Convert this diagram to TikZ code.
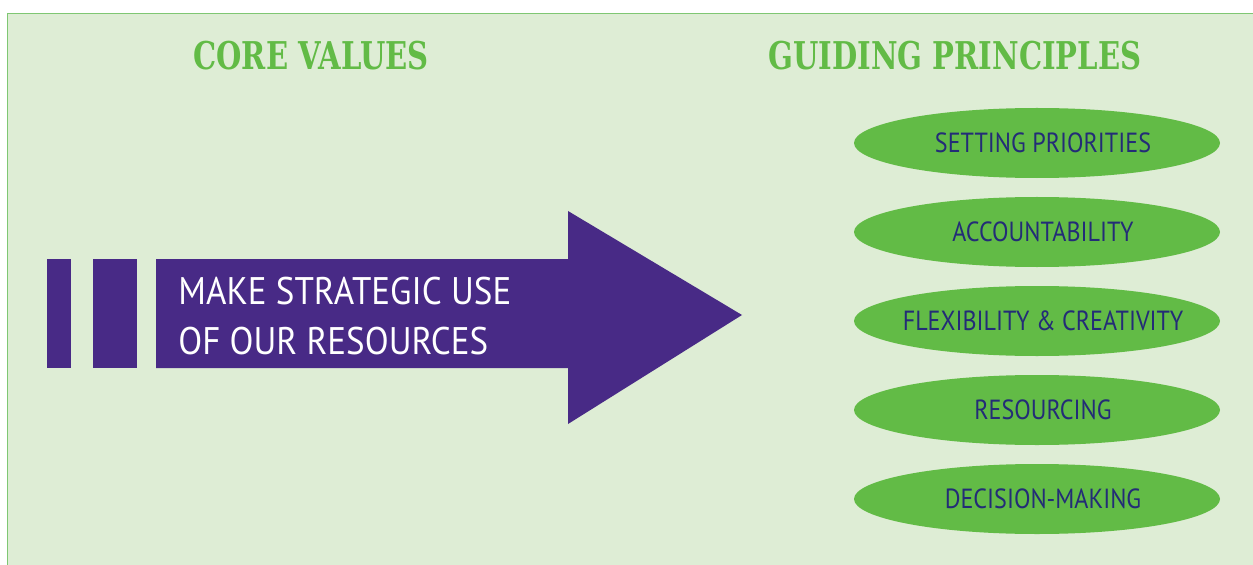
\documentclass[tikz,border=0pt]{standalone}
\usepackage{fontspec}
\setmainfont{PT Sans}
\newfontfamily\headfont[FakeStretch=0.76]{DejaVu Serif}
\newfontfamily\bodyfont[FakeStretch=0.87]{PT Sans}
\newfontfamily\arrowfont[FakeStretch=0.91]{PT Sans}
\usetikzlibrary{shapes.geometric}
\definecolor{panelfill}{HTML}{DEEDD5}
\definecolor{panelline}{HTML}{7FC773}
\definecolor{leafgreen}{HTML}{62BB46}
\definecolor{deepviolet}{HTML}{482A86}
\definecolor{navy}{HTML}{232C77}

\begin{document}
\begin{tikzpicture}[x=0.5bp,y=-0.5bp,
  heading/.style={font=\headfont\bfseries\fontsize{19.2}{23}\selectfont,text=leafgreen,inner sep=0,anchor=base},
  principle/.style={ellipse,fill=leafgreen,minimum width=183bp,minimum height=35bp,inner ysep=0,inner xsep=-15bp,
    text=navy,font=\bodyfont\fontsize{13.9}{16}\selectfont},
  bigtext/.style={font=\arrowfont\fontsize{19.3}{23}\selectfont,text=white,inner sep=0,anchor=base west}]
\useasboundingbox (0,0) rectangle (1253,565);
\draw[panelline,fill=panelfill,line width=0.8bp] (7.5,13.5) rectangle (1270,580);

\node[heading] (core) at (311,70) {CORE VALUES};
\node[heading] (guide) at (955,70) {GUIDING PRINCIPLES};

% the big arrow with its two bars
\fill[deepviolet] (47,259) rectangle (71,368);
\fill[deepviolet] (93,259) rectangle (137,368);
\fill[deepviolet] (156,259) -- (568,259) -- (568,211) -- (742,315) -- (568,424) -- (568,368) -- (156,368) -- cycle;
\node[bigtext] (line1) at (178,304) {MAKE STRATEGIC USE};
\node[bigtext] (line2) at (178,354) {OF OUR RESOURCES};

\foreach \nm/\txt [count=\i] in {prio/SETTING PRIORITIES,acc/ACCOUNTABILITY,
    flex/FLEXIBILITY \& CREATIVITY,res/RESOURCING,dec/DECISION-MAKING}
  \node[principle] (\nm) at (1037,54+89*\i) {\hspace*{6bp}\txt};
\end{tikzpicture}
\end{document}
